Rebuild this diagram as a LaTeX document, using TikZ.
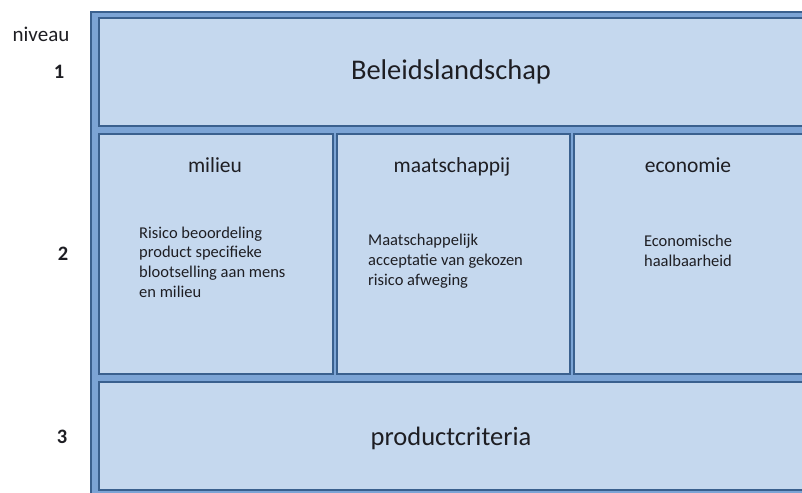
\documentclass[tikz,border=0pt]{standalone}
\usepackage{fontspec}
\setmainfont{Carlito}
\definecolor{cellfill}{RGB}{197,216,238}
\definecolor{midblue}{RGB}{124,164,213}
\definecolor{darkblue}{RGB}{58,96,142}
\definecolor{txt}{RGB}{30,30,35}
\begin{document}
\begin{tikzpicture}[x=1pt,y=-1pt,
  outerbox/.style={draw=darkblue,fill=midblue,line width=2pt},
  cell/.style={draw=darkblue,fill=cellfill,line width=2pt,anchor=north west,inner sep=0pt},
  lvl/.style={text=txt,font=\fontsize{20.5}{24}\selectfont\bfseries,inner sep=0pt,anchor=base},
  head/.style={text=txt,font=\fontsize{21.5}{25}\selectfont,inner sep=0pt,anchor=base},
  big/.style={text=txt,font=\fontsize{28.5}{33}\selectfont,inner sep=0pt,anchor=base},
  body/.style={text=txt,font=\fontsize{16.5}{19.7}\selectfont,inner sep=0pt}]
\useasboundingbox (0,0) rectangle (802,492);
\clip (0,0) rectangle (802,492);
\fill[white] (0,0) rectangle (802,492);
\draw[outerbox] (91,12) rectangle (815,505);
\node[cell,minimum width=712pt,minimum height=108pt] (top) at (98,17) {};
\node[cell,minimum width=234pt,minimum height=240pt] (mil) at (98,133) {};
\node[cell,minimum width=233pt,minimum height=240pt] (maa) at (336,133) {};
\node[cell,minimum width=237pt,minimum height=240pt] (eco) at (573,133) {};
\node[cell,minimum width=712pt,minimum height=108pt] (prod) at (98,381) {};
% labels
\node[big] (tBel) at (451,80) {Beleidslandschap};
\node[big,font=\fontsize{26.5}{31}\selectfont] (tProd) at (451,445) {productcriteria};
\node[head] (hMil) at (215,172) {milieu};
\node[head] (hMaa) at (452,172) {maatschappij};
\node[head] (hEco) at (688,172) {economie};
\node[body,anchor=west,align=left] (bMil) at (139,262) {Risico beoordeling\\product specifieke\\blootselling aan mens\\en milieu};
\node[body,anchor=west,align=left] (bMaa) at (368,261) {Maatschappelijk\\acceptatie van gekozen\\risico afweging};
\node[body,align=center] (bEco) at (688,251) {Economische\\haalbaarheid};
% levels
\node[head,font=\fontsize{21}{25}\selectfont] (niv) at (41,42) {niveau};
\node[lvl] (l1) at (59,79) {1};
\node[lvl] (l2) at (63,260) {2};
\node[lvl] (l3) at (62,443) {3};
\end{tikzpicture}
\end{document}
